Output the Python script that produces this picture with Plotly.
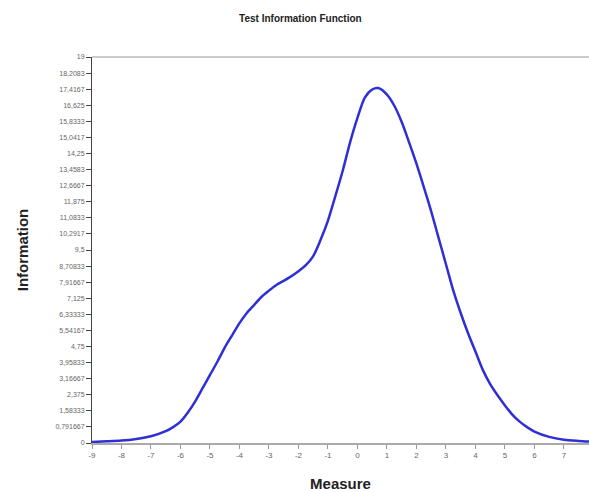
import plotly.graph_objects as go

measure = [-9, -8.5, -8, -7.5, -7, -6.5, -6.25, -6, -5.75, -5.5, -5.25, -5, -4.75, -4.5, -4.25, -4,
           -3.75, -3.5, -3.25, -3, -2.75, -2.5, -2.25, -2, -1.75, -1.5, -1.25, -1, -0.75, -0.5, -0.25,
           0, 0.25, 0.5, 0.7, 1, 1.25, 1.5, 1.75, 2, 2.25, 2.5, 2.75, 3, 3.25, 3.5, 3.75, 4, 4.25,
           4.5, 4.75, 5, 5.25, 5.5, 5.75, 6, 6.5, 7, 7.5, 7.85]
information = [0.05, 0.08, 0.12, 0.2, 0.33, 0.58, 0.78, 1.05, 1.5, 2.05, 2.7, 3.35, 4.0, 4.7, 5.3, 5.9,
               6.4, 6.8, 7.2, 7.5, 7.78, 7.98, 8.2, 8.45, 8.75, 9.2, 10.0, 10.95, 12.15, 13.4, 14.8,
               16.0, 17.0, 17.4, 17.47, 17.15, 16.6, 15.8, 14.8, 13.75, 12.6, 11.4, 10.1, 8.8, 7.5,
               6.4, 5.4, 4.5, 3.6, 2.9, 2.35, 1.85, 1.4, 1.05, 0.78, 0.56, 0.3, 0.16, 0.1, 0.07]

x_ticks = list(range(-9, 8))
y_tickvals = [i * 19 / 24 for i in range(25)]
y_ticktext = ["0", "0,791667", "1,58333", "2,375", "3,16667", "3,95833", "4,75", "5,54167", "6,33333",
              "7,125", "7,91667", "8,70833", "9,5", "10,2917", "11,0833", "11,875", "12,6667", "13,4583",
              "14,25", "15,0417", "15,8333", "16,625", "17,4167", "18,2083", "19"]

fig = go.Figure()
fig.add_trace(go.Scatter(x=measure, y=information, mode="lines",
                         line=dict(color="#2f2fd6", width=2.5, shape="spline", smoothing=0.8),
                         showlegend=False, hoverinfo="skip"))

fig.update_layout(
    width=589, height=492,
    margin=dict(l=92, r=0, t=57, b=49, autoexpand=False),
    paper_bgcolor="white", plot_bgcolor="white",
    font=dict(family="Liberation Sans, Arial, sans-serif", color="#333"),
    title=dict(text="<b>Test Information Function</b>", x=0.51, xanchor="center",
               y=0.962, yanchor="middle", font=dict(size=10, color="#222")),
    xaxis=dict(range=[-9, 7.85], tickvals=x_ticks, ticktext=[str(v) for v in x_ticks],
               automargin=False,
               showgrid=False, zeroline=False, showline=True, linecolor="#aaaaaa", linewidth=1.5,
               ticks="outside", ticklen=4, tickcolor="#999", tickfont=dict(size=8, color="#666"),
               title=dict(text="<b>Measure</b>", font=dict(size=15, color="#222"), standoff=23)),
    yaxis=dict(range=[0, 19], tickvals=y_tickvals, ticktext=y_ticktext,
               automargin=False,
               showgrid=False, zeroline=False, showline=True, linecolor="#444", linewidth=1,
               ticks="outside", ticklen=5, tickcolor="#444", tickfont=dict(size=7, color="#666"),
               title=dict(text="<b>Information</b>", font=dict(size=15, color="#222"), standoff=23)),
    shapes=[dict(type="line", xref="paper", yref="paper", x0=0, x1=1, y0=1, y1=1,
                 line=dict(color="#999", width=1))],
)

fig.write_html("out.html", config={"displayModeBar": False},
               post_script="document.body.style.margin='0';")
